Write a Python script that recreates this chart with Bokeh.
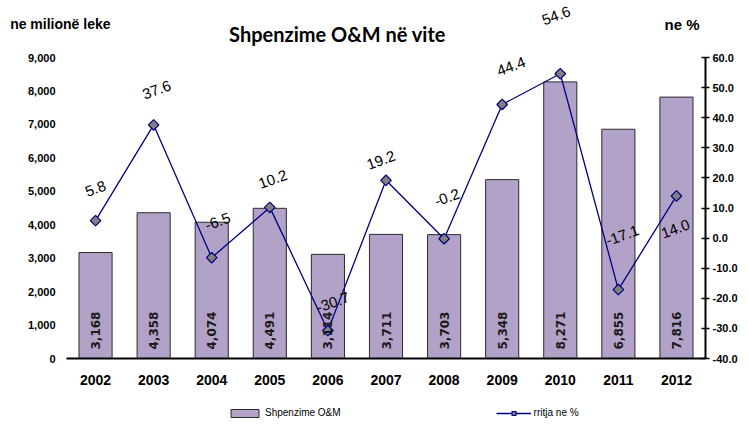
from bokeh.plotting import figure
from bokeh.layouts import column
from bokeh.models import (FactorRange, Range1d, LinearAxis, FixedTicker, NumeralTickFormatter,
                          ColumnDataSource, LabelSet, Label, Legend, LegendItem)
from bokeh.core.properties import value
from bokeh.embed import file_html
from bokeh.resources import INLINE
import math

# ---- data ----
years = ["2002", "2003", "2004", "2005", "2006", "2007", "2008", "2009", "2010", "2011", "2012"]
spending = [3168, 4358, 4074, 4491, 3114, 3711, 3703, 5348, 8271, 6855, 7816]
growth = [5.8, 37.6, -6.5, 10.2, -30.7, 19.2, -0.2, 44.4, 54.6, -17.1, 14.0]
left_ticks = [0, 1000, 2000, 3000, 4000, 5000, 6000, 7000, 8000, 9000]
right_ticks = [-40, -30, -20, -10, 0, 10, 20, 30, 40, 50, 60]

# label placement (screen px, style only)
pct_dx = [0, 3, 6, 3, 5, -5, 3, 9, -4, 4, -1]
pct_dy = [32, 35, 36, 28, 28, 20, 41, 38, 58, 54, -33]

BAR = "#b3a2c7"
NAVY = "#000080"
FONT = "Liberation Sans"

# ---- layout geometry (page px) ----
W = 748
FL, FR = 66, 705          # plot area left / right
Y_MAX_PX, Y0_PX = 57, 358  # where 9000 (60 %) and 0 (-40 %) sit
T_H = 46                  # header strip
M_H = 349                 # main chart (page 46..395)
B_H = 30                  # legend strip (page 395..425)
CAPTION_MID = 18
n = len(years)
PPU_L = (Y0_PX - Y_MAX_PX) / left_ticks[-1]
PPU_R = (Y0_PX - Y_MAX_PX) / (right_ticks[-1] - right_ticks[0])


def pct_value_at(py):
    return right_ticks[-1] + (Y_MAX_PX - py) / PPU_R


def pct_px(v):
    return Y_MAX_PX + (right_ticks[-1] - v) * PPU_R


growth_txt = ["{:.1f}".format(v) for v in growth]
top_idx = [i for i in range(n) if pct_px(growth[i]) - pct_dy[i] < T_H]
main_idx = [i for i in range(n) if i not in top_idx]


def label_src(idx):
    return ColumnDataSource(dict(
        year=[years[i] for i in idx], growth=[growth[i] for i in idx],
        txt=[growth_txt[i] for i in idx],
        dx=[pct_dx[i] for i in idx], dy=[pct_dy[i] for i in idx]))


pct_style = dict(angle=0.35, text_align="center", text_baseline="middle",
                 text_font=value(FONT), text_font_size="15px", text_color="#000000")

src = ColumnDataSource(dict(year=years, spend=spending, growth=growth,
                            spend_txt=["{:,}".format(v) for v in spending]))

# =================== header strip (frame aligned with the main plot area) ===================
t = figure(width=W, height=T_H, x_range=FactorRange(*years),
           y_range=Range1d(pct_value_at(T_H), pct_value_at(0)),
           output_backend="svg", toolbar_location=None,
           x_axis_location=None, y_axis_location=None, min_border=0)
t.x_range.range_padding = 0
t.outline_line_color = None
t.grid.visible = False
t.add_layout(Label(x=337 - FL, y=T_H - 33, x_units="screen", y_units="screen",
                   text="Shpenzime O&M në vite", text_align="center", text_baseline="alphabetic",
                   text_font="Lato", text_font_style="bold", text_font_size="20px",
                   text_color="#000000"))
t.add_layout(Label(x=664 - FL, y=T_H - 24, x_units="screen", y_units="screen", text="ne %",
                   text_align="left", text_baseline="alphabetic", text_font=FONT,
                   text_font_style="bold", text_font_size="15px", text_color="#000000"))
t.add_layout(LabelSet(x="year", y="growth", text="txt", source=label_src(top_idx),
                      x_offset="dx", y_offset="dy", **pct_style))

# unit caption at the top-left: label of a tick-less left axis of the header strip
cap_val = pct_value_at(CAPTION_MID)
cap_axis = LinearAxis(ticker=FixedTicker(ticks=[]), bounds=(cap_val - 0.5, cap_val + 0.5),
                      axis_label="ne milionë leke", axis_label_orientation="horizontal",
                      axis_label_standoff=-44, axis_line_color=None,
                      major_tick_line_color=None, minor_tick_line_color=None,
                      major_tick_out=0, minor_tick_out=0)
cap_axis.axis_label_text_font = FONT
cap_axis.axis_label_text_font_style = "bold"
cap_axis.axis_label_text_font_size = "14px"
cap_axis.axis_label_text_color = "#000000"
t.add_layout(cap_axis, "left")

# =================== main chart ===================
m = figure(width=W, height=M_H, x_range=FactorRange(*years),
           y_range=Range1d(0, (Y0_PX - T_H) / PPU_L),
           output_backend="svg", toolbar_location=None,
           min_border_left=FL, min_border_right=W - FR, min_border_top=0,
           min_border_bottom=T_H + M_H - Y0_PX)
m.outline_line_color = None
m.xgrid.grid_line_color = None
m.ygrid.grid_line_color = None
m.x_range.range_padding = 0
m.extra_y_ranges = {"pct": Range1d(right_ticks[0], pct_value_at(T_H))}

m.vbar(x="year", top="spend", width=0.57, source=src,
       fill_color=BAR, line_color="#2b2b2b", line_width=1)
m.line(x="year", y="growth", source=src, y_range_name="pct", line_color=NAVY, line_width=1.3)
m.scatter(x="year", y="growth", source=src, y_range_name="pct", marker="square",
          angle=math.pi / 4, size=7.5, fill_color="#808080", line_color=NAVY, line_width=1.2)

m.add_layout(LabelSet(x="year", y=0, text="spend_txt", source=src, angle=math.pi / 2,
                      text_align="left", text_baseline="middle", y_offset=9,
                      text_font=value("DejaVu Sans"), text_font_style="bold",
                      text_font_size="12px", text_color="#1a1a1a"))
m.add_layout(LabelSet(x="year", y="growth", y_range_name="pct", text="txt",
                      source=label_src(main_idx), x_offset="dx", y_offset="dy", **pct_style))

ya = m.yaxis[0]
ya.ticker = FixedTicker(ticks=left_ticks)
ya.formatter = NumeralTickFormatter(format="0,0")
ya.axis_line_color = None
ya.major_tick_line_color = None
ya.minor_tick_line_color = None
ya.major_tick_out = 0
ya.major_label_standoff = 11
ya.major_label_text_font = FONT
ya.major_label_text_font_style = "bold"
ya.major_label_text_font_size = "11px"
ya.major_label_text_color = "#000000"

ra = LinearAxis(y_range_name="pct", ticker=FixedTicker(ticks=right_ticks),
                formatter=NumeralTickFormatter(format="0.0"),
                bounds=(right_ticks[0], right_ticks[-1]))
ra.axis_line_color = "#000000"
ra.axis_line_width = 2
ra.major_tick_in = 4
ra.major_tick_out = 4
ra.major_tick_line_color = "#000000"
ra.major_tick_line_width = 1.5
ra.minor_tick_line_color = None
ra.major_label_standoff = 3
ra.major_label_text_font = FONT
ra.major_label_text_font_style = "bold"
ra.major_label_text_font_size = "11px"
ra.major_label_text_color = "#000000"
m.add_layout(ra, "right")

xa = m.xaxis[0]
xa.axis_line_color = "#000000"
xa.axis_line_width = 2
xa.major_tick_line_color = None
xa.minor_tick_line_color = None
xa.major_tick_out = 0
xa.major_label_standoff = 16
xa.major_label_text_font = FONT
xa.major_label_text_font_style = "bold"
xa.major_label_text_font_size = "14px"
xa.major_label_text_color = "#000000"

# =================== legend strip ===================
b = figure(width=W, height=B_H, x_range=FactorRange(*years), y_range=Range1d(1e6, 1e6 + 1),
           output_backend="svg", toolbar_location=None,
           x_axis_location=None, y_axis_location=None, min_border=0)
b.outline_line_color = None
b.grid.visible = False
lb = b.vbar(x="year", top="spend", width=0.57, source=src,
            fill_color=BAR, line_color="#2b2b2b", line_width=1)
ll = b.line(x="year", y="growth", source=src, line_color=NAVY, line_width=1.3)
lm = b.scatter(x="year", y="growth", source=src, marker="square", angle=math.pi / 4, size=7.5,
               fill_color="#808080", line_color=NAVY, line_width=1.2)
legend = Legend(items=[LegendItem(label="Shpenzime O&M", renderers=[lb]),
                       LegendItem(label="rritja ne %", renderers=[ll, lm])],
                orientation="horizontal", location=(227 - FL, 7),
                glyph_width=35, glyph_height=10, label_height=10, label_standoff=3,
                spacing=155, padding=0, margin=0, border_line_color=None,
                background_fill_alpha=0,
                label_text_font=FONT, label_text_font_size="10px", label_text_color="#000000")
b.add_layout(legend, "center")

layout = column(t, m, b, spacing=0)
open("out.html", "w").write(file_html(layout, INLINE))
